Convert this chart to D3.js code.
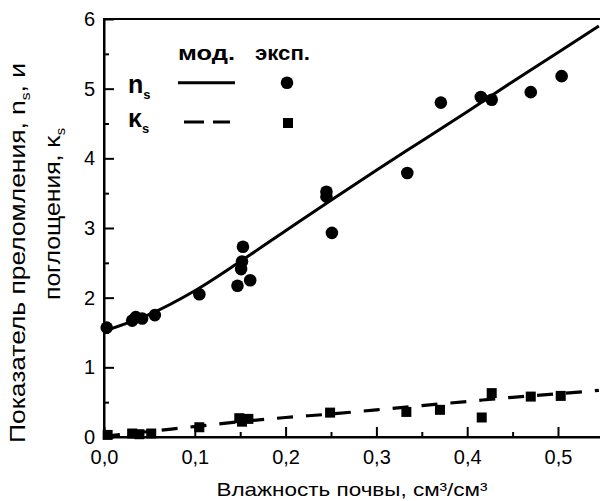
<!DOCTYPE html>
<html>
<head>
<meta charset="utf-8">
<script src="https://cdn.jsdelivr.net/npm/d3@7"></script>
<style>
  body { margin: 0; background: #fff; }
  svg { display: block; }
</style>
</head>
<body>
<svg width="600" height="501"></svg>
<script>
// эксп. n_s
const nsExpX = [0.003, 0.031, 0.035, 0.042, 0.056, 0.105, 0.147, 0.151, 0.152, 0.153, 0.161, 0.245, 0.245, 0.251, 0.334, 0.371, 0.415, 0.427, 0.470, 0.504];
const nsExpY = [1.57, 1.67, 1.72, 1.70, 1.75, 2.05, 2.17, 2.41, 2.52, 2.73, 2.25, 3.52, 3.45, 2.93, 3.79, 4.80, 4.88, 4.84, 4.95, 5.18];
// эксп. kappa_s
const ksExpX = [0.004, 0.031, 0.039, 0.052, 0.105, 0.149, 0.152, 0.159, 0.249, 0.333, 0.370, 0.416, 0.427, 0.470, 0.503];
const ksExpY = [0.03, 0.05, 0.04, 0.05, 0.14, 0.27, 0.22, 0.26, 0.35, 0.36, 0.39, 0.28, 0.63, 0.58, 0.59];
// мод.
const modX = [0, 0.05, 0.1, 0.15, 0.2, 0.25, 0.3, 0.35, 0.4, 0.45, 0.5, 0.545];
const nsModY = [1.52, 1.76, 2.10, 2.52, 2.96, 3.40, 3.83, 4.25, 4.67, 5.10, 5.52, 5.90];
const ksModY = [0.01, 0.08, 0.15, 0.22, 0.28, 0.33, 0.39, 0.45, 0.51, 0.57, 0.62, 0.67];

const xTicks = [0, 0.1, 0.2, 0.3, 0.4, 0.5];
const xMinor = [0.05, 0.15, 0.25, 0.35, 0.45];
const yTicks = [0, 1, 2, 3, 4, 5, 6];
const yMinor = [0.5, 1.5, 2.5, 3.5, 4.5, 5.5];

const font = "'Liberation Sans', Arial, sans-serif";
const svg = d3.select('svg');

const x = d3.scaleLinear().domain([0, 0.55]).range([104, 603.4]);
const y = d3.scaleLinear().domain([0, 6]).range([437, 19]);

const ru = d3.formatLocale({ decimal: ",", thousands: " ", grouping: [3], currency: ["", ""] });
const fmtX = ru.format(".1f");

// рамка
svg.append('rect')
    .attr('x', x(0)).attr('y', y(6))
    .attr('width', x(0.55) - x(0)).attr('height', y(0) - y(6))
    .attr('fill', 'none').attr('stroke', '#000').attr('stroke-width', 2);

function styleAxis(g) {
    g.select('.domain').attr('stroke-width', 2);
    g.selectAll('.tick line').attr('stroke-width', 2);
    g.selectAll('text').attr('font-size', 20).attr('font-family', font).attr('fill', '#000');
}

svg.append('g')
    .attr('transform', `translate(0,${y(0)})`)
    .call(d3.axisBottom(x).tickValues(xTicks).tickFormat(fmtX).tickSizeInner(-10).tickSizeOuter(0).tickPadding(13))
    .call(styleAxis);
svg.append('g')
    .attr('transform', `translate(0,${y(0)})`)
    .call(d3.axisBottom(x).tickValues(xMinor).tickFormat('').tickSizeInner(-5).tickSizeOuter(0))
    .call(styleAxis)
    .call(g => g.select('.domain').remove());

svg.append('g')
    .attr('transform', `translate(${x(0)},0)`)
    .call(d3.axisLeft(y).tickValues(yTicks).tickFormat(d3.format('d')).tickSizeInner(-10).tickSizeOuter(0).tickPadding(9))
    .call(styleAxis);
svg.append('g')
    .attr('transform', `translate(${x(0)},0)`)
    .call(d3.axisLeft(y).tickValues(yMinor).tickFormat('').tickSizeInner(-5).tickSizeOuter(0))
    .call(styleAxis)
    .call(g => g.select('.domain').remove());

// модельные кривые
const line = d3.line()
    .x(d => x(d[0]))
    .y(d => y(d[1]))
    .curve(d3.curveMonotoneX);

svg.append('path')
    .datum(d3.zip(modX, nsModY))
    .attr('d', line)
    .attr('fill', 'none').attr('stroke', '#000').attr('stroke-width', 3);

svg.append('path')
    .datum(d3.zip(modX, ksModY))
    .attr('d', line)
    .attr('fill', 'none').attr('stroke', '#000').attr('stroke-width', 3.2)
    .attr('stroke-dasharray', '16,13');

// эксперимент
svg.append('g')
    .selectAll('circle')
    .data(d3.zip(nsExpX, nsExpY))
    .join('circle')
    .attr('cx', d => x(d[0]))
    .attr('cy', d => y(d[1]))
    .attr('r', 6.3)
    .attr('fill', '#000');

const sq = 10;
svg.append('g')
    .selectAll('rect')
    .data(d3.zip(ksExpX, ksExpY))
    .join('rect')
    .attr('x', d => x(d[0]) - sq / 2)
    .attr('y', d => y(d[1]) - sq / 2)
    .attr('width', sq).attr('height', sq)
    .attr('fill', '#000');

// легенда
const legend = svg.append('g').attr('font-family', font).attr('fill', '#000');
legend.append('text').attr('x', 178).attr('y', 60).attr('font-size', 20).attr('font-weight', 'bold')
    .attr('textLength', 57).attr('lengthAdjust', 'spacingAndGlyphs').text('мод.');
legend.append('text').attr('x', 255).attr('y', 60).attr('font-size', 20).attr('font-weight', 'bold')
    .attr('textLength', 55).attr('lengthAdjust', 'spacingAndGlyphs').text('эксп.');

const symN = legend.append('text').attr('x', 128).attr('y', 93).attr('font-size', 25).attr('font-weight', 'bold');
symN.append('tspan').text('n');
symN.append('tspan').attr('font-size', 13).attr('dy', 6).text('s');
const symK = legend.append('text').attr('x', 128).attr('y', 127).attr('font-size', 25).attr('font-weight', 'bold');
symK.append('tspan').text('κ');
symK.append('tspan').attr('font-size', 13).attr('dy', 6).text('s');

legend.append('line').attr('x1', 178).attr('x2', 235).attr('y1', 82.7).attr('y2', 82.7)
    .attr('stroke', '#000').attr('stroke-width', 3);
legend.append('line').attr('x1', 184).attr('x2', 230).attr('y1', 122).attr('y2', 122)
    .attr('stroke', '#000').attr('stroke-width', 3.2).attr('stroke-dasharray', '20,9');
legend.append('circle').attr('cx', 287).attr('cy', 82.7).attr('r', 6.3).attr('fill', '#000');
legend.append('rect').attr('x', 283).attr('y', 118).attr('width', sq).attr('height', sq).attr('fill', '#000');

// подписи осей
const xTitle = svg.append('text')
    .attr('x', 352).attr('y', 496)
    .attr('text-anchor', 'middle')
    .attr('font-family', font).attr('font-size', 19)
    .attr('textLength', 271).attr('lengthAdjust', 'spacingAndGlyphs')
    .text('Влажность почвы, см³/см³');

const yTitle1 = svg.append('text')
    .attr('transform', 'translate(25,253) rotate(-90)')
    .attr('text-anchor', 'middle')
    .attr('font-family', font).attr('font-size', 22)
    .attr('textLength', 380).attr('lengthAdjust', 'spacingAndGlyphs');
yTitle1.append('tspan').text('Показатель преломления, n');
yTitle1.append('tspan').attr('font-size', 13).attr('dy', 5).text('s');
yTitle1.append('tspan').attr('dy', -5).text(', и');

const yTitle2 = svg.append('text')
    .attr('transform', 'translate(60,214) rotate(-90)')
    .attr('text-anchor', 'middle')
    .attr('font-family', font).attr('font-size', 22)
    .attr('textLength', 172).attr('lengthAdjust', 'spacingAndGlyphs');
yTitle2.append('tspan').text('поглощения, κ');
yTitle2.append('tspan').attr('font-size', 13).attr('dy', 5).text('s');
</script>
</body>
</html>
